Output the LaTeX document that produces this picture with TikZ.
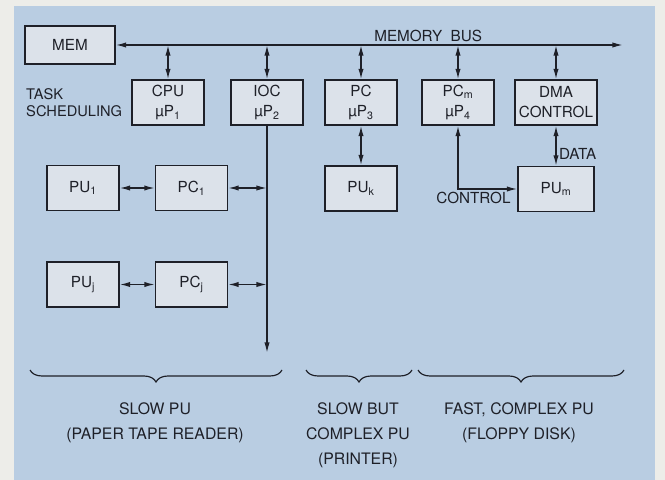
\documentclass[tikz,border=0pt]{standalone}
\usepackage{fontspec}
\setmainfont{TeX Gyre Heros}
\usetikzlibrary{arrows.meta,positioning,decorations.pathreplacing}
\definecolor{paper}{HTML}{EDEDE9}
\definecolor{panel}{HTML}{B9CDE2}
\definecolor{boxfill}{HTML}{DCE2EA}
\definecolor{ink}{HTML}{1E2028}

\begin{document}
\begin{tikzpicture}[x=0.03cm,y=-0.03cm,font=\fontsize{13}{17}\selectfont,
  >={Latex[length=9pt,width=4.5pt]},
  blk/.style={draw=ink,line width=1.1pt,fill=boxfill,text=ink,align=center,
    minimum width=2.16cm,minimum height=1.35cm,inner sep=2pt},
  wire/.style={draw=ink,line width=1.2pt},
  bi/.style={wire,<->},
  lab/.style={text=ink,inner sep=2pt},
  note/.style={text=ink,align=center,font=\fontsize{13.5}{21.5}\selectfont},
  grp/.style={wire,line width=1pt,decorate,decoration={brace,mirror,amplitude=0.36cm}}]
  \fill[paper] (0,0) rectangle (665,480);
  \fill[panel] (14,6) rectangle (655,480);
  % memory and the processors on the bus
  \node[blk,minimum width=2.7cm,minimum height=1.14cm] (mem) at (70,45) {MEM};
  \foreach \x/\n/\t in {168/cpu/CPU\\µP\textsubscript{1},267/ioc/IOC\\µP\textsubscript{2},
      361/pc3/PC\\µP\textsubscript{3},458/pcm/PC\textsubscript{m}\\µP\textsubscript{4}}{
    \node[blk] (\n) at (\x,102.5) {\t};
  }
  \node[blk,minimum width=2.46cm] (dma) at (556,102.5) {DMA\\CONTROL};
  \node[lab,align=left,font=\fontsize{12.5}{15}\selectfont,left=0.2cm of cpu] (task) {TASK\\SCHEDULING};
  % peripheral units
  \node[blk] (pu1) at (83,188) {PU\textsubscript{1}};
  \node[blk] (pc1) at (191.5,188) {PC\textsubscript{1}};
  \node[blk] (puj) at (83,284.5) {PU\textsubscript{j}};
  \node[blk] (pcj) at (191.5,284.5) {PC\textsubscript{j}};
  \node[blk] (puk) at (361,188.5) {PU\textsubscript{k}};
  \node[blk,minimum width=2.28cm] (pum) at (556,189) {PU\textsubscript{m}};
  \coordinate (busend) at (623,45);
  \coordinate (iocend) at (267,353);
  % bus and links
  \draw[bi] (mem.east) -- node[lab,above,pos=0.616]{MEMORY\ \ BUS} (busend);
  \foreach \n in {cpu,ioc,pc3,pcm,dma}
    \draw[bi] (\n.north |- mem.east) -- (\n.north);
  \draw[wire,->] (ioc.south) -- (iocend);
  \draw[bi] (pu1) -- (pc1);
  \draw[bi] (puj) -- (pcj);
  \draw[bi] (pc1.east) -- (pc1.east -| ioc.south);
  \draw[bi] (pcj.east) -- (pcj.east -| ioc.south);
  \draw[bi] (pc3) -- (puk);
  \draw[bi] (pcm.south) |- node[lab,below,pos=0.63]{CONTROL} (pum.west);
  \draw[bi] (dma) -- node[lab,right,pos=0.7]{DATA} (pum);
  % groups
  \draw[grp] (30,370) -- (282,370);
  \draw[grp] (306,370) -- (412,370);
  \draw[grp] (418,370) -- (624,370);
  \node[note] (slow) at (155,422.5) {SLOW PU\\(PAPER TAPE READER)};
  \node[note] (prn) at (358,435.5) {SLOW BUT\\COMPLEX PU\\(PRINTER)};
  \node[note] (fast) at (519,422.5) {FAST, COMPLEX PU\\(FLOPPY DISK)};
\end{tikzpicture}
\end{document}
